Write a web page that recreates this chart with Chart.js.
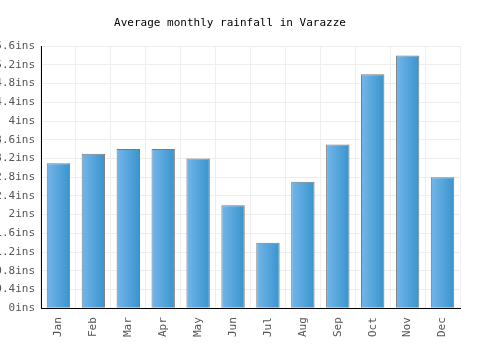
<!DOCTYPE html>
<html>
<head>
<meta charset="utf-8">
<script src="https://cdn.jsdelivr.net/npm/chart.js@4"></script>
<style>
  body { margin: 0; background: #fff; }
</style>
</head>
<body>
<canvas id="myChart" width="500" height="350"></canvas>
<script>
var months = ['Jan', 'Feb', 'Mar', 'Apr', 'May', 'Jun', 'Jul', 'Aug', 'Sep', 'Oct', 'Nov', 'Dec'];
var rainfall = [3.1, 3.3, 3.4, 3.4, 3.2, 2.2, 1.4, 2.7, 3.5, 5.0, 5.4, 2.8];
var yMax = 5.6;
var yStep = 0.4;
var barPct = 0.67;

// horizontal gradient for each bar, worked out from the x scale
function barFill(context) {
  var chart = context.chart;
  var xs = chart.scales.x;
  if (!xs || context.dataIndex === undefined) return '#4aa3dc';
  var cx = xs.getPixelForValue(context.dataIndex);
  var w = (xs.width / months.length) * barPct;
  if (!isFinite(cx) || !isFinite(w) || w <= 0) return '#4aa3dc';
  var g = chart.ctx.createLinearGradient(cx - w / 2, 0, cx + w / 2, 0);
  g.addColorStop(0, '#74b6ea');
  g.addColorStop(1, '#3894cd');
  return g;
}

var ctx = document.getElementById('myChart').getContext('2d');
var myChart = new Chart(ctx, {
  type: 'bar',
  data: {
    labels: months,
    datasets: [{
      label: 'Rainfall',
      data: rainfall,
      backgroundColor: barFill,
      borderColor: '#7a7a7a',
      borderWidth: 1,
      barPercentage: barPct,
      categoryPercentage: 1.0
    }]
  },
  options: {
    responsive: false,
    animation: false,
    layout: { padding: { left: 0, right: 40, top: 0, bottom: 4 } },
    plugins: {
      legend: { display: false },
      tooltip: { enabled: false },
      title: {
        display: true,
        text: 'Average monthly rainfall in Varazze',
        color: '#000',
        font: { family: 'DejaVu Sans Mono', size: 11, weight: 'normal' },
        padding: { top: 17, bottom: 16 }
      }
    },
    scales: {
      x: {
        grid: { color: '#eeeeee', drawTicks: false },
        border: { color: '#000', width: 1 },
        ticks: {
          color: '#555',
          font: { family: 'DejaVu Sans Mono', size: 11 },
          minRotation: 90,
          maxRotation: 90,
          padding: 9
        }
      },
      y: {
        min: 0,
        max: yMax,
        grid: { color: '#eeeeee', drawTicks: false },
        border: { color: '#000', width: 1 },
        afterFit: function(scale) { scale.width = 41; },
        ticks: {
          stepSize: yStep,
          color: '#555',
          padding: 6,
          font: { family: 'DejaVu Sans Mono', size: 11 },
          callback: function(v) {
            return parseFloat(v.toFixed(1)) + 'ins';
          }
        }
      }
    }
  }
});
</script>
</body>
</html>
